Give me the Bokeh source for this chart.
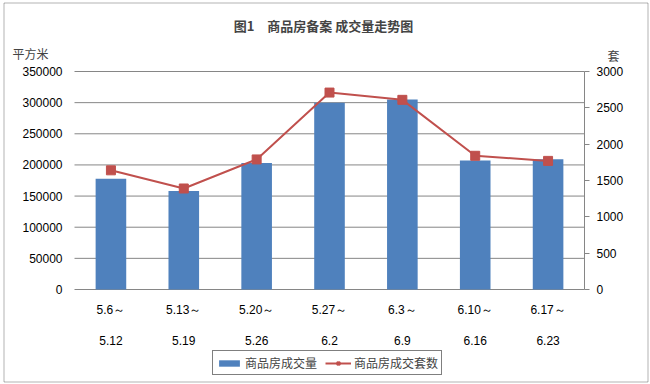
from bokeh.plotting import figure
from bokeh.models import (Range1d, LinearAxis, FixedTicker, NumeralTickFormatter, Legend,
                          LegendItem, Label, ColumnDataSource, BoxAnnotation)
from bokeh.embed import file_html
from bokeh.resources import INLINE

periods_start = ["5.6～", "5.13～", "5.20～", "5.27～", "6.3～", "6.10～", "6.17～"]
periods_end = ["5.12", "5.19", "5.26", "6.2", "6.9", "6.16", "6.23"]
area_sqm = [178000, 158000, 203000, 300000, 305000, 207000, 209000]
units_sold = [1640, 1390, 1790, 2710, 2610, 1840, 1770]
left_ticks = [0, 50000, 100000, 150000, 200000, 250000, 300000, 350000]
right_ticks = [0, 500, 1000, 1500, 2000, 2500, 3000]

BLUE = "#4F81BD"
RED = "#C0504D"
GRID = "#868686"
NUM_FONT = "Liberation Sans"
CJK = "Noto Sans CJK SC"

# ---- layout (pixels) ----
W, H = 650, 384
PLOT_L, PLOT_R, PLOT_T, PLOT_B = 74, 584, 71, 289
n = len(periods_start)
cat_px = (PLOT_R - PLOT_L) / n
x_start = -0.5 - PLOT_L / cat_px
x_end = n - 0.5 + (W - PLOT_R) / cat_px
ymax_l, ymax_r = left_ticks[-1], right_ticks[-1]
px_h = PLOT_B - PLOT_T
yl_start = -(H - PLOT_B) / px_h * ymax_l
yl_end = ymax_l + PLOT_T / px_h * ymax_l
yr_start = -(H - PLOT_B) / px_h * ymax_r
yr_end = ymax_r + PLOT_T / px_h * ymax_r

idx = list(range(n))
src = ColumnDataSource(dict(x=idx, area=area_sqm, units=units_sold))

p = figure(width=W, height=H, output_backend="svg", toolbar_location=None, title=None,
           x_range=Range1d(x_start, x_end), y_range=Range1d(yl_start, yl_end),
           min_border=0, min_border_left=0, min_border_right=0,
           min_border_top=0, min_border_bottom=0)
p.extra_y_ranges = {"r": Range1d(yr_start, yr_end)}
p.outline_line_color = None
p.xgrid.visible = False
p.ygrid.visible = False

# gridlines (at the left-axis tick values, spanning the plot area)
p.segment(x0=-0.5, x1=n - 0.5, y0=left_ticks, y1=left_ticks, line_color=GRID, line_width=1)

bars = p.vbar(x="x", top="area", width=0.42, source=src, fill_color=BLUE, line_color=None)
line = p.line(x="x", y="units", source=src, y_range_name="r", line_color=RED, line_width=2)
marks = p.scatter(x="x", y="units", source=src, y_range_name="r", marker="square", size=9,
                  fill_color=RED, line_color=RED)

# left axis
ya = p.yaxis[0]
ya.fixed_location = -0.5
ya.bounds = (0, ymax_l)
ya.ticker = FixedTicker(ticks=left_ticks)
ya.formatter = NumeralTickFormatter(format="0")
ya.axis_line_color = None
ya.major_tick_line_color = None
ya.major_tick_out = 0
ya.major_tick_in = 0
ya.minor_tick_line_color = None
ya.major_label_standoff = 12
ya.major_label_text_font = NUM_FONT
ya.major_label_text_font_size = "12px"
ya.major_label_text_color = "black"

# right axis
ra = LinearAxis(y_range_name="r", ticker=FixedTicker(ticks=right_ticks), fixed_location=n - 0.5,
                bounds=(0, ymax_r))
ra.axis_line_color = GRID
ra.major_tick_line_color = GRID
ra.major_tick_out = 5
ra.major_tick_in = 0
ra.minor_tick_line_color = None
ra.major_label_standoff = 7
ra.major_label_text_font = NUM_FONT
ra.major_label_text_font_size = "12px"
ra.major_label_text_color = "black"
p.add_layout(ra, "right")

# bottom axes (two lines of period labels)
xa = p.xaxis[0]
xb = LinearAxis()
p.add_layout(xb, "below")
for ax, labels, standoff in ((xa, periods_start, 13), (xb, periods_end, 46)):
    ax.fixed_location = 0
    ax.bounds = (-0.5, n - 0.5)
    ax.ticker = FixedTicker(ticks=idx)
    ax.major_label_overrides = {i: lab for i, lab in zip(idx, labels)}
    ax.axis_line_color = None
    ax.major_tick_line_color = None
    ax.major_tick_out = 0
    ax.major_tick_in = 0
    ax.minor_tick_line_color = None
    ax.major_label_standoff = standoff
    ax.major_label_text_font = NUM_FONT
    ax.major_label_text_font_size = "12px"
    ax.major_label_text_color = "black"

legend = Legend(items=[LegendItem(label="商品房成交量", renderers=[bars]),
                       LegendItem(label="商品房成交套数", renderers=[line, marks])],
                orientation="horizontal", location=(212, H - 375))
legend.border_line_color = "black"
legend.border_line_width = 1
legend.label_text_font = CJK
legend.label_text_font_size = "12px"
legend.label_height = 14
legend.glyph_height = 8
legend.glyph_width = 26
legend.padding = 3
legend.margin = 0
legend.spacing = 8
legend.label_standoff = 3
p.add_layout(legend, "center")

# title and unit labels (screen units from the frame's bottom-left)
p.add_layout(Label(x=323, y=H - 25, x_units="screen", y_units="screen",
                   text="图1　商品房备案 成交量走势图", text_font=CJK, text_font_style="bold",
                   text_font_size="13px", text_align="center", text_baseline="middle"))
p.add_layout(Label(x=12, y=H - 53, x_units="screen", y_units="screen", text="平方米",
                   text_font=CJK, text_font_size="12px", text_align="left", text_baseline="middle"))
p.add_layout(Label(x=613, y=H - 55, x_units="screen", y_units="screen", text="套",
                   text_font=CJK, text_font_size="12px", text_align="center", text_baseline="middle"))

# outer chart border
p.add_layout(BoxAnnotation(left=3.5, right=647.5, bottom=H - 381.5, top=H - 2.5,
                           left_units="screen", right_units="screen",
                           bottom_units="screen", top_units="screen",
                           fill_color=None, fill_alpha=0, line_color="black", line_width=1))

open("out.html", "w").write(file_html(p, INLINE))
